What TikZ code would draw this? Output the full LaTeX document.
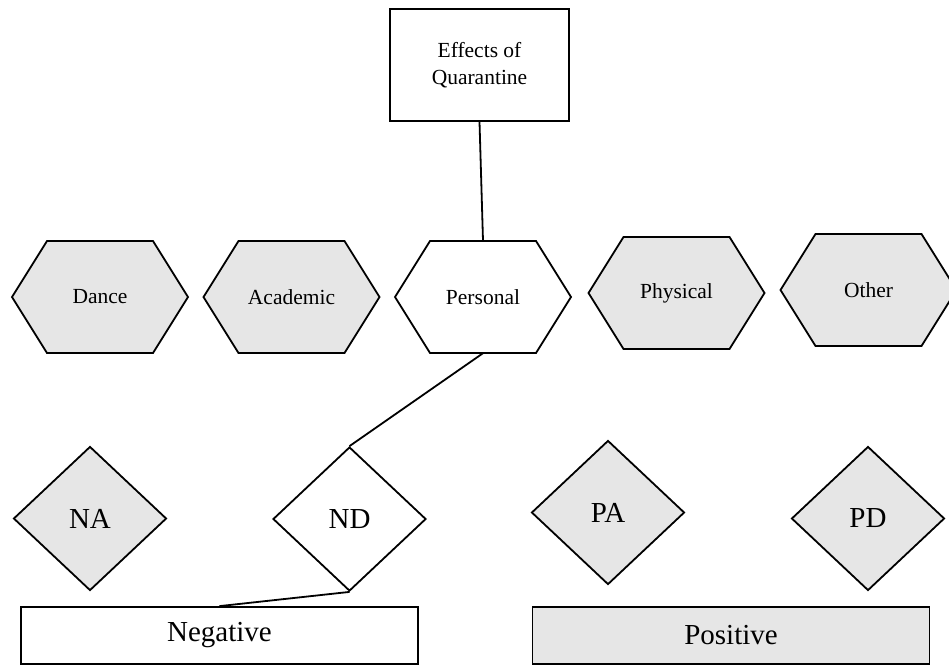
\documentclass[tikz,border=0pt]{standalone}
\usepackage{fontspec}
\setmainfont{Liberation Serif}
\usetikzlibrary{shapes.geometric,calc}
\definecolor{shadegray}{HTML}{E6E6E6}
\tikzset{
  outline/.style={draw=black, line width=1.8pt, line join=miter},
  hexlabel/.style={draw=none, rectangle, minimum width=176pt, minimum height=112pt, inner sep=0pt, font=\fontsize{21.5}{25}\selectfont},
  gem/.style={outline, diamond, minimum width=153pt, minimum height=144pt, inner sep=0pt, font=\fontsize{29}{33}\selectfont},
  bar/.style={outline, rectangle, minimum width=397pt, minimum height=57pt, inner sep=0pt, font=\fontsize{29}{33}\selectfont},
  titlebox/.style={outline, rectangle, minimum width=179pt, minimum height=112pt, inner sep=0pt, align=center, font=\fontsize{21.5}{27}\selectfont},
  link/.style={line width=1.8pt}
}
% hexagon with pointed left/right ends: name, centre, fill, label
\newcommand\hexat[4]{%
  \filldraw[outline, fill=#3] ($(#2)+(-88,0)$) -- ++(35,-56) -- ++(106,0) -- ++(35,56) -- ++(-35,56) -- ++(-106,0) -- cycle;
  \node[hexlabel] (#1) at (#2) {#4};}
\begin{document}
\begin{tikzpicture}[x=1pt, y=-1pt]
  \useasboundingbox (0,0) rectangle (949,665);

  % top box
  \node[titlebox, fill=white] (effects) at (479.5,65) {Effects of\\Quarantine};

  % categories
  \hexat{dance}{100,297}{shadegray}{Dance}
  \hexat{academic}{291.5,297}{shadegray}{Academic}
  \hexat{personal}{483,297}{white}{Personal}
  \hexat{physical}{676.5,293}{shadegray}{Physical}
  \hexat{other}{868.5,290}{shadegray}{Other}

  % diamonds
  \node[gem, fill=shadegray] (na) at (90,518.5) {NA};
  \node[gem, fill=white] (nd) at (349.5,519) {ND};
  \node[gem, fill=shadegray] (pa) at (608,512.5) {PA};
  \node[gem, fill=shadegray] (pd) at (868,518.5) {PD};

  % bottom bars
  \node[bar, fill=white] (negative) at (219.5,635.5) {Negative};
  \node[bar, fill=shadegray] (positive) at (731,635.5) {Positive};

  % connectors
  \draw[link] (effects.south) -- (personal.north);
  \draw[link] (personal.south) -- (nd.north);
  \draw[link] (nd.south) -- (negative.north);
\end{tikzpicture}
\end{document}
